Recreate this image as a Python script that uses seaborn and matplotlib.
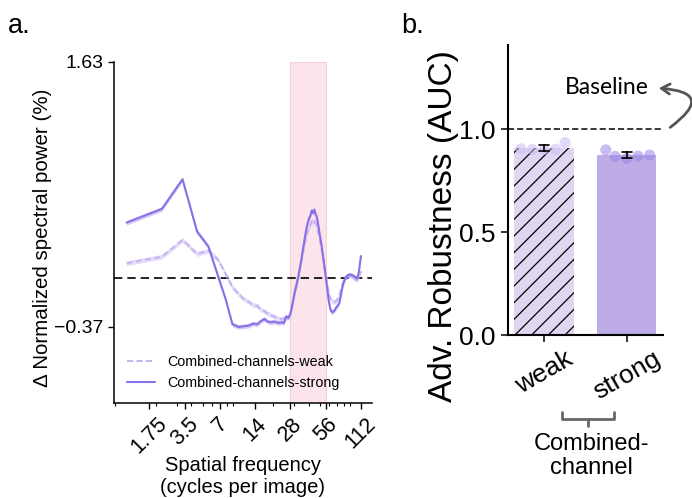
import numpy as np
import pandas as pd
import matplotlib
matplotlib.use("Agg")
import matplotlib.pyplot as plt
import seaborn as sns
from matplotlib.ticker import FixedLocator, LogLocator, NullFormatter
from matplotlib.lines import Line2D

# ---------------- data: panel a ----------------
bin_step = 1.12          # cycles per image per frequency bin
n_bins = 100
strong_vals = [
    0.417, 0.521, 0.745, 0.349, 0.236, 0.020, -0.160, -0.350, -0.370, -0.365,
    -0.360, -0.345, -0.350, -0.325, -0.310, -0.330, -0.335, -0.330, -0.335, -0.340,
    -0.335, -0.340, -0.290, -0.300, -0.270, -0.200, -0.120, -0.060, 0.000, 0.070,
    0.140, 0.220, 0.290, 0.360, 0.410, 0.450, 0.470, 0.510, 0.490, 0.515,
    0.480, 0.460, 0.410, 0.350, 0.300, 0.250, 0.190, 0.130, 0.070, 0.010,
    -0.050, -0.110, -0.170, -0.210, -0.240, -0.255, -0.260, -0.255, -0.245, -0.240,
    -0.225, -0.220, -0.210, -0.200, -0.195, -0.170, -0.140, -0.110, -0.080, -0.055,
    -0.035, -0.020, -0.005, 0.005, 0.010, 0.015, 0.020, 0.022, 0.024, 0.025,
    0.025, 0.024, 0.022, 0.020, 0.018, 0.015, 0.012, 0.010, 0.008, 0.005,
    0.000, -0.005, 0.000, 0.010, 0.030, 0.050, 0.080, 0.110, 0.140, 0.165,
]
weak_vals = [
    0.111, 0.160, 0.287, 0.181, 0.206, 0.140, 0.030, -0.070, -0.120, -0.160,
    -0.180, -0.205, -0.210, -0.240, -0.250, -0.270, -0.280, -0.290, -0.300, -0.310,
    -0.310, -0.305, -0.300, -0.300, -0.270, -0.200, -0.130, -0.070, -0.010, 0.060,
    0.120, 0.190, 0.250, 0.310, 0.350, 0.380, 0.400, 0.430, 0.420, 0.430,
    0.410, 0.390, 0.350, 0.310, 0.270, 0.220, 0.170, 0.120, 0.070, 0.020,
    -0.030, -0.070, -0.110, -0.140, -0.160, -0.170, -0.175, -0.180, -0.180, -0.180,
    -0.175, -0.170, -0.160, -0.150, -0.140, -0.120, -0.100, -0.080, -0.060, -0.045,
    -0.030, -0.020, -0.010, 0.000, 0.005, 0.010, 0.012, 0.015, 0.016, 0.017,
    0.016, 0.015, 0.013, 0.010, 0.008, 0.005, 0.000, -0.005, -0.010, -0.012,
    -0.015, -0.015, -0.010, -0.005, 0.000, 0.010, 0.020, 0.030, 0.040, 0.050,
]
band_halfwidth = 0.018
series_names = ["Combined-channels-weak", "Combined-channels-strong"]
freq_ticks = [1.75, 3.5, 7, 14, 28, 56, 112]
freq_tick_labels = ["1.75", "3.5", "7", "14", "28", "56", "112"]
highlight_band = (28, 56)
y_ticks_a = [-0.37, 1.63]
y_tick_labels_a = ["\u22120.37", "1.63"]

# ---------------- data: panel b ----------------
groups = ["weak", "strong"]
weak_points = [0.935, 0.905, 0.903, 0.902, 0.902]
strong_points = [0.900, 0.875, 0.858, 0.870, 0.868]
baseline_value = 1.0
y_ticks_b = [0.0, 0.5, 1.0]
y_tick_labels_b = ["0.0", "0.5", "1.0"]

# ---------------- style ----------------
sns.set_theme(style="ticks")
plt.rcParams["font.family"] = ["Liberation Sans", "DejaVu Sans"]
plt.rcParams["axes.edgecolor"] = "black"
plt.rcParams["xtick.color"] = "black"
plt.rcParams["ytick.color"] = "black"
plt.rcParams["text.color"] = "black"
plt.rcParams["axes.labelcolor"] = "black"
plt.rcParams["hatch.linewidth"] = 0.9

col_strong = "#8b6fe8"
col_weak = "#c6b5f3"
bar_weak = "#ddd2f7"
bar_strong = "#b9a2f0"

W, H = 692, 498
fig = plt.figure(figsize=(W / 100, H / 100), dpi=100)
axA = fig.add_axes([114 / W, 1 - 403 / H, (372 - 114) / W, (403 - 62) / H])
axB = fig.add_axes([507.7 / W, 1 - 335 / H, (663 - 507.7) / W, (335 - 45) / H])

# ---------------- panel a ----------------
freq = np.arange(1, n_bins + 1) * bin_step
dfa = pd.DataFrame({
    "freq": np.concatenate([freq, freq]),
    "power": np.array(weak_vals + strong_vals),
    "model": [series_names[0]] * n_bins + [series_names[1]] * n_bins,
})
axA.axvspan(*highlight_band, facecolor="#fbe4ea", edgecolor="#f5d0d9", lw=0.8, zorder=0)
axA.axhline(0, color="black", lw=1.2, dashes=(5, 3), zorder=1)

for name, vals, c, a in [(series_names[0], weak_vals, col_weak, 0.45),
                         (series_names[1], strong_vals, col_strong, 0.35)]:
    v = np.array(vals)
    axA.fill_between(freq, v - band_halfwidth, v + band_halfwidth, color=c, alpha=a, lw=0, zorder=2)

sns.lineplot(data=dfa, x="freq", y="power", hue="model", style="model",
             hue_order=series_names, style_order=series_names,
             palette={series_names[0]: col_weak, series_names[1]: col_strong},
             dashes={series_names[0]: (3, 1.5), series_names[1]: ""},
             lw=1.5, ax=axA, zorder=3)

axA.set_xscale("log", base=2)
axA.set_xlim(0.875, 139)
axA.set_ylim(-0.944, 1.63)
axA.xaxis.set_major_locator(FixedLocator(freq_ticks))
axA.set_xticklabels(freq_tick_labels, rotation=45, ha="center", fontsize=15.5)
axA.xaxis.set_minor_locator(LogLocator(base=10, subs=np.arange(2, 10)))
axA.xaxis.set_minor_formatter(NullFormatter())
axA.set_yticks(y_ticks_a)
axA.set_yticklabels(y_tick_labels_a, fontsize=14)
axA.tick_params(axis="both", which="major", length=4, width=1)
axA.tick_params(axis="x", which="minor", length=2.5, width=0.8)
axA.set_xlabel("Spatial frequency\n(cycles per image)", fontsize=14.5)
axA.xaxis.set_label_coords(0.5, -0.156)
axA.set_ylabel("\u0394 Normalized spectral power (%)", fontsize=14.8)
axA.yaxis.set_label_coords(-0.24, 0.485)
for s in ["top", "right"]:
    axA.spines[s].set_visible(False)
for s in ["left", "bottom"]:
    axA.spines[s].set_linewidth(1.1)
leg = axA.legend(loc="lower left", frameon=False, fontsize=10.3)

# ---------------- panel b ----------------
dfb = pd.DataFrame({
    "group": [groups[0]] * len(weak_points) + [groups[1]] * len(strong_points),
    "value": weak_points + strong_points,
})
sns.barplot(data=dfb, x="group", y="value", hue="group", order=groups, hue_order=groups,
            palette={groups[0]: bar_weak, groups[1]: bar_strong},
            errorbar="sd", capsize=0.12, width=0.72, legend=False,
            err_kws={"color": "black", "linewidth": 1.2}, ax=axB)
for i, p in enumerate(axB.patches):
    p.set_linewidth(0)
    if i == 0:
        p.set_edgecolor("black")
        p.set_hatch("//")
sns.swarmplot(data=dfb, x="group", y="value", hue="group", order=groups, hue_order=groups,
              palette={groups[0]: "#cbbaf5", groups[1]: "#9d83ea"},
              size=8, alpha=0.55, legend=False, ax=axB)
for ln in axB.lines:
    ln.set_zorder(6)
axB.axhline(baseline_value, color="black", lw=1.1, dashes=(4, 2), zorder=4)

axB.set_xlim(-0.44, 1.44)
axB.set_ylim(0, 1.41)
axB.set_yticks(y_ticks_b)
axB.set_yticklabels(y_tick_labels_b, fontsize=19)
axB.set_xticks([0, 1])
axB.set_xticklabels(groups, rotation=30, ha="center", fontsize=19)
axB.tick_params(axis="both", length=5, width=1.1)
axB.set_xlabel("")
axB.set_ylabel("Adv. Robustness (AUC)", fontsize=24)
axB.yaxis.set_label_coords(-0.315, 0.376)
for s in ["top", "right"]:
    axB.spines[s].set_visible(False)
for s in ["left", "bottom"]:
    axB.spines[s].set_linewidth(1.5)

# annotation: Baseline with curved arrow
fig.text(607 / W, 1 - 87 / H, "Baseline", ha="center", va="center",
         fontsize=16.5, family=["Lato", "DejaVu Sans"])
axB.annotate("", xy=(656, H - 88), xycoords="figure pixels",
             xytext=(668, H - 129), textcoords="figure pixels",
             arrowprops=dict(arrowstyle="->,head_length=0.5,head_width=0.3",
                             color="#555555", lw=2,
                             connectionstyle="arc3,rad=1.4"),
             annotation_clip=False)

# bracket under tick labels
fig.add_artist(Line2D(np.array([562, 562, 614, 614]) / W,
                      1 - np.array([412, 419, 419, 412]) / H,
                      transform=fig.transFigure, color="#666666", lw=2))
fig.add_artist(Line2D(np.array([588, 588]) / W, 1 - np.array([419, 426]) / H,
                      transform=fig.transFigure, color="#666666", lw=2))
fig.text(591.7 / W, 1 - 433 / H, "Combined-\nchannel", ha="center", va="top",
         fontsize=17, linespacing=1.1)

# panel labels
fig.text(8 / W, 1 - 33 / H, "a.", fontsize=19.5, va="baseline")
fig.text(401 / W, 1 - 33 / H, "b.", fontsize=19.5, va="baseline")

fig.savefig("out.png", dpi=100)
